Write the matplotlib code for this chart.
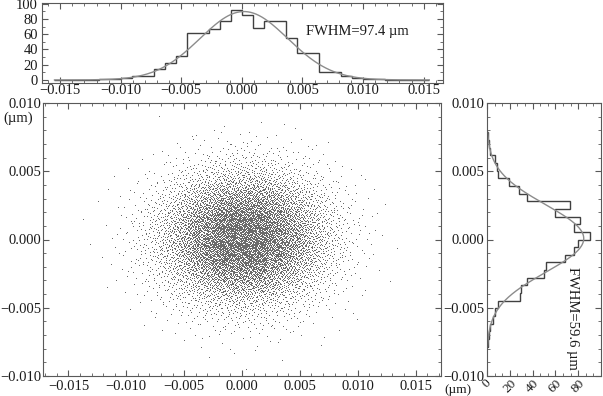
import numpy as np
import matplotlib
matplotlib.use('Agg')
import matplotlib.pyplot as plt
from matplotlib.ticker import MultipleLocator, AutoMinorLocator, FuncFormatter

# top histogram (horizontal position), bins of width x_bin centred on 0
x_bin = 0.00091
x_counts = [0, 0, 0, 0, 1, 1, 3, 5, 5, 14, 22, 32, 61, 61, 67, 77, 92,
            85, 68, 78, 78, 55, 35, 35, 11, 11, 5, 2, 1, 1, 0, 0, 0, 0]
# right histogram (vertical position)
y_bin = 0.00056
y_counts = [1, 2, 3, 5, 7, 10, 29, 30, 35, 50, 52, 68, 76, 80,
            90, 76, 82, 60, 73, 35, 28, 19, 10, 9, 7, 3, 2, 1]
x_ticks = [-0.015, -0.010, -0.005, 0.000, 0.005, 0.010, 0.015]
y_ticks = [-0.010, -0.005, 0.000, 0.005, 0.010]
count_ticks_top = [0, 20, 40, 60, 80, 100]
count_ticks_right = [0, 20, 40, 60, 80]
fwhm_x = 'FWHM=97.4 \u00b5m'
fwhm_y = 'FWHM=59.6 \u00b5m'
n_points = 10000

x_edges = x_bin * np.arange(-len(x_counts) // 2, len(x_counts) // 2 + 1)
y_edges = y_bin * np.arange(-len(y_counts) // 2, len(y_counts) // 2 + 1)

plt.rcParams['font.family'] = ['Liberation Serif', 'DejaVu Serif']
plt.rcParams['font.size'] = 10.5

fig = plt.figure(figsize=(6.03, 3.96), dpi=100)
ax_main = fig.add_axes([43 / 603, 1 - 376 / 396, 398 / 603, 273 / 396])
ax_top = fig.add_axes([42 / 603, 1 - 83 / 396, 401 / 603, 80 / 396])
ax_right = fig.add_axes([487 / 603, 1 - 376 / 396, 114 / 603, 273 / 396])


def fmt3(v, pos):
    if abs(v) < 1e-9:
        return '0.000'
    return ('%.3f' % v).replace('-', '\u2212')


def style(ax):
    for s in ax.spines.values():
        s.set_color('0.35')
        s.set_linewidth(0.8)
    ax.tick_params(which='both', direction='in', top=True, right=True,
                   colors='0.35', labelcolor='0.1')
    ax.tick_params(which='major', length=4)
    ax.tick_params(which='minor', length=2)


def gauss_fit(centers, counts):
    c = np.asarray(counts, float)
    mu = np.sum(c * centers) / c.sum()
    sig = np.sqrt(np.sum(c * (centers - mu) ** 2) / c.sum())
    g = np.exp(-0.5 * ((centers - mu) / sig) ** 2)
    amp = np.sum(c * g) / np.sum(g * g)
    return amp, mu, sig


def radical_inverse(n, base):
    out = np.zeros(len(n))
    f = 1.0 / base
    m = n.copy()
    while m.any():
        out += f * (m % base)
        m //= base
        f /= base
    return out


def from_fit(u, mu, sig):
    # map [0,1) through the cumulative of the fitted gaussian
    grid = np.linspace(mu - 5 * sig, mu + 5 * sig, 2001)
    cdf = np.cumsum(np.exp(-0.5 * ((grid - mu) / sig) ** 2))
    cdf = (cdf - cdf[0]) / (cdf[-1] - cdf[0])
    return np.interp(u, cdf, grid)


xc = 0.5 * (x_edges[:-1] + x_edges[1:])
yc = 0.5 * (y_edges[:-1] + y_edges[1:])
fit_x = gauss_fit(xc, x_counts)
fit_y = gauss_fit(yc, y_counts)

# scatter cloud spread after the fitted profiles of the two histograms
k = np.arange(1, n_points + 1)
px = from_fit(radical_inverse(k, 2), fit_x[1], fit_x[2])
py = from_fit(radical_inverse(k, 3), fit_y[1], fit_y[2])

ax_main.plot(px, py, ',', color='0.42')
ax_main.set_xlim(-0.0172, 0.0172)
ax_main.set_ylim(-0.010, 0.010)
ax_main.set_xticks(x_ticks)
ax_main.set_yticks(y_ticks)
ax_main.xaxis.set_minor_locator(MultipleLocator(0.001))
ax_main.yaxis.set_minor_locator(MultipleLocator(0.001))
ax_main.xaxis.set_major_formatter(FuncFormatter(fmt3))
ax_main.yaxis.set_major_formatter(FuncFormatter(fmt3))
style(ax_main)
ax_main.tick_params(axis='x', pad=3)
ax_main.tick_params(axis='y', pad=1.5)

# top histogram
ax_top.stairs(x_counts, x_edges, color='0.25', linewidth=1.0)
amp, mu, sig = fit_x
xx = np.linspace(x_edges[0], x_edges[-1], 400)
ax_top.plot(xx, amp * np.exp(-0.5 * ((xx - mu) / sig) ** 2), color='0.55', linewidth=1.0)
ax_top.set_xlim(-0.0165, 0.0166)
ax_top.set_ylim(-4, 101)
ax_top.set_xticks(x_ticks)
ax_top.set_yticks(count_ticks_top)
ax_top.xaxis.set_minor_locator(MultipleLocator(0.001))
ax_top.yaxis.set_minor_locator(MultipleLocator(10))
ax_top.xaxis.set_major_formatter(FuncFormatter(fmt3))
style(ax_top)
ax_top.tick_params(axis='x', pad=1)
ax_top.tick_params(axis='y', pad=3)
ax_top.text(0.0053, 64, fwhm_x, ha='left', va='center', color='0.1')

# right histogram
ax_right.stairs(y_counts, y_edges, orientation='horizontal', color='0.25', linewidth=1.0)
amp, mu, sig = fit_y
yy = np.linspace(y_edges[0], y_edges[-1], 400)
ax_right.plot(amp * np.exp(-0.5 * ((yy - mu) / sig) ** 2), yy, color='0.55', linewidth=1.0)
ax_right.set_xlim(0, 100)
ax_right.set_ylim(-0.010, 0.010)
ax_right.set_xticks(count_ticks_right)
ax_right.set_yticks(y_ticks)
ax_right.xaxis.set_minor_locator(AutoMinorLocator(3))
ax_right.yaxis.set_minor_locator(MultipleLocator(0.001))
ax_right.yaxis.set_major_formatter(FuncFormatter(fmt3))
style(ax_right)
ax_right.tick_params(axis='y', pad=2)
ax_right.tick_params(axis='x', pad=1, labelrotation=45, labelsize=9.5)
for lab in ax_right.get_xticklabels():
    lab.set_ha('center')
ax_right.text(75, -0.00575, fwhm_y, rotation=270, ha='center', va='center', color='0.1')

fig.text(18 / 603, 1 - 118 / 396, '(\u00b5m)', ha='center', va='center', color='0.1')
fig.text(458 / 603, 1 - 390 / 396, '(\u00b5m)', ha='center', va='center', color='0.1',
         fontsize=9.5)

fig.savefig('out.png', dpi=100)
